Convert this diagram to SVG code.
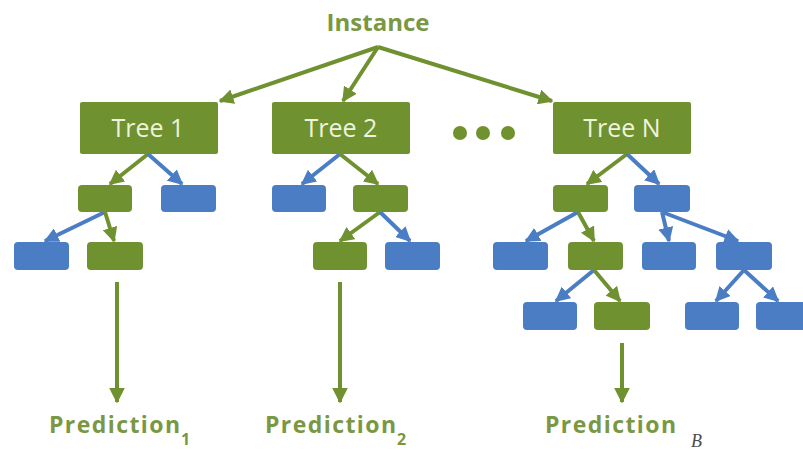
<svg xmlns="http://www.w3.org/2000/svg" width="803" height="453" viewBox="0 0 803 453">
<style>
.g{fill:#70912f}
.b{fill:#4a7dc4}
.tl{font-family:"Open Sans","Liberation Sans",sans-serif;font-size:25px;fill:#eef3dc;text-anchor:middle}
.lbl{font-family:"Open Sans","Liberation Sans",sans-serif;font-weight:700;fill:#7a9743}
.cg{stroke:#70912f;stroke-width:4;fill:none;marker-end:url(#ag)}
.cb{stroke:#4a7dc4;stroke-width:4;fill:none;marker-end:url(#ab)}
.cp{stroke:#70912f;stroke-width:4;fill:none;marker-end:url(#ap)}
</style>
<defs>
<marker id="ag" viewBox="0 0 10 10" refX="9" refY="5" markerWidth="15" markerHeight="15" markerUnits="userSpaceOnUse" orient="auto"><path d="M0,0 L10,5 L0,10 z" fill="#70912f"/></marker>
<marker id="ab" viewBox="0 0 10 10" refX="9" refY="5" markerWidth="15" markerHeight="15" markerUnits="userSpaceOnUse" orient="auto"><path d="M0,0 L10,5 L0,10 z" fill="#4a7dc4"/></marker>
<marker id="ap" viewBox="0 0 10 10" refX="9" refY="5" markerWidth="16" markerHeight="16" markerUnits="userSpaceOnUse" orient="auto"><path d="M0,0 L10,5 L0,10 z" fill="#70912f"/></marker>
</defs>
<rect width="803" height="453" fill="#ffffff"/>

<g id="connectors">
<path class="cg" d="M378,47 L220,101"/>
<path class="cg" d="M378,47 L343,101"/>
<path class="cg" d="M378,47 L552,101"/>
<path class="cg" d="M148,154 L110,184"/>
<path class="cb" d="M148,154 L182,184"/>
<path class="cb" d="M340,154 L302,184"/>
<path class="cg" d="M340,154 L378,184"/>
<path class="cg" d="M627,154 L587,184"/>
<path class="cb" d="M627,154 L659,184"/>
<path class="cb" d="M105,212 L45,241"/>
<path class="cg" d="M105,212 L114,241"/>
<path class="cg" d="M380,212 L340,241"/>
<path class="cb" d="M380,212 L410,241"/>
<path class="cb" d="M578,212 L526,241"/>
<path class="cg" d="M578,212 L594,241"/>
<path class="cb" d="M662,212 L669,241"/>
<path class="cb" d="M662,212 L738,241"/>
<path class="cb" d="M594,270 L556,301"/>
<path class="cg" d="M594,270 L620,301"/>
<path class="cb" d="M744,270 L716,301"/>
<path class="cb" d="M744,270 L778,301"/>
<path class="cp" d="M117,282 L117,402"/>
<path class="cp" d="M340,282 L340,402"/>
<path class="cp" d="M622,343 L622,402"/>
</g>

<g id="instance"><text class="lbl" x="378" y="31" font-size="24" text-anchor="middle">Instance</text></g>

<g id="tree1"><rect class="g" x="80" y="102" width="138" height="52" rx="2"/><text class="tl" x="148" y="137">Tree 1</text></g>
<g id="tree2"><rect class="g" x="272" y="102" width="138" height="52" rx="2"/><text class="tl" x="341" y="137">Tree 2</text></g>
<g id="treeN"><rect class="g" x="553" y="102" width="138" height="52" rx="2"/><text class="tl" x="622" y="137">Tree N</text></g>
<g id="dots"><circle class="g" cx="460" cy="133" r="7"/><circle class="g" cx="483" cy="133" r="7"/><circle class="g" cx="508" cy="133" r="7"/></g>

<g id="t1n1"><rect class="g" x="78" y="185" width="54" height="27" rx="4"/></g>
<g id="t1n2"><rect class="b" x="161" y="185" width="55" height="27" rx="4"/></g>
<g id="t1n3"><rect class="b" x="14" y="242" width="55" height="28" rx="4"/></g>
<g id="t1n4"><rect class="g" x="87" y="242" width="56" height="28" rx="4"/></g>

<g id="t2n1"><rect class="b" x="272" y="185" width="54" height="27" rx="4"/></g>
<g id="t2n2"><rect class="g" x="353" y="185" width="55" height="27" rx="4"/></g>
<g id="t2n3"><rect class="g" x="313" y="242" width="54" height="28" rx="4"/></g>
<g id="t2n4"><rect class="b" x="385" y="242" width="55" height="28" rx="4"/></g>

<g id="tNn1"><rect class="g" x="553" y="185" width="55" height="27" rx="4"/></g>
<g id="tNn2"><rect class="b" x="634" y="185" width="56" height="27" rx="4"/></g>
<g id="tNn3"><rect class="b" x="493" y="242" width="55" height="28" rx="4"/></g>
<g id="tNn4"><rect class="g" x="568" y="242" width="55" height="28" rx="4"/></g>
<g id="tNn5"><rect class="b" x="642" y="242" width="54" height="28" rx="4"/></g>
<g id="tNn6"><rect class="b" x="716" y="242" width="56" height="28" rx="4"/></g>
<g id="tNn7"><rect class="b" x="523" y="302" width="54" height="28" rx="4"/></g>
<g id="tNn8"><rect class="g" x="594" y="302" width="56" height="28" rx="4"/></g>
<g id="tNn9"><rect class="b" x="685" y="302" width="54" height="28" rx="4"/></g>
<g id="tNn10"><rect class="b" x="756" y="302" width="54" height="28" rx="4"/></g>

<g id="pred1"><text class="lbl" x="49" y="433" font-size="23" textLength="131" lengthAdjust="spacing">Prediction</text><text class="lbl" x="181" y="445" font-size="16">1</text></g>
<g id="pred2"><text class="lbl" x="265" y="433" font-size="23" textLength="131" lengthAdjust="spacing">Prediction</text><text class="lbl" x="397" y="445" font-size="16">2</text></g>
<g id="predB"><text class="lbl" x="545" y="433" font-size="23" textLength="131" lengthAdjust="spacing">Prediction</text><text x="691" y="447" font-family="'Liberation Serif',serif" font-style="italic" font-size="18" fill="#4d4d4d">B</text></g>
</svg>
